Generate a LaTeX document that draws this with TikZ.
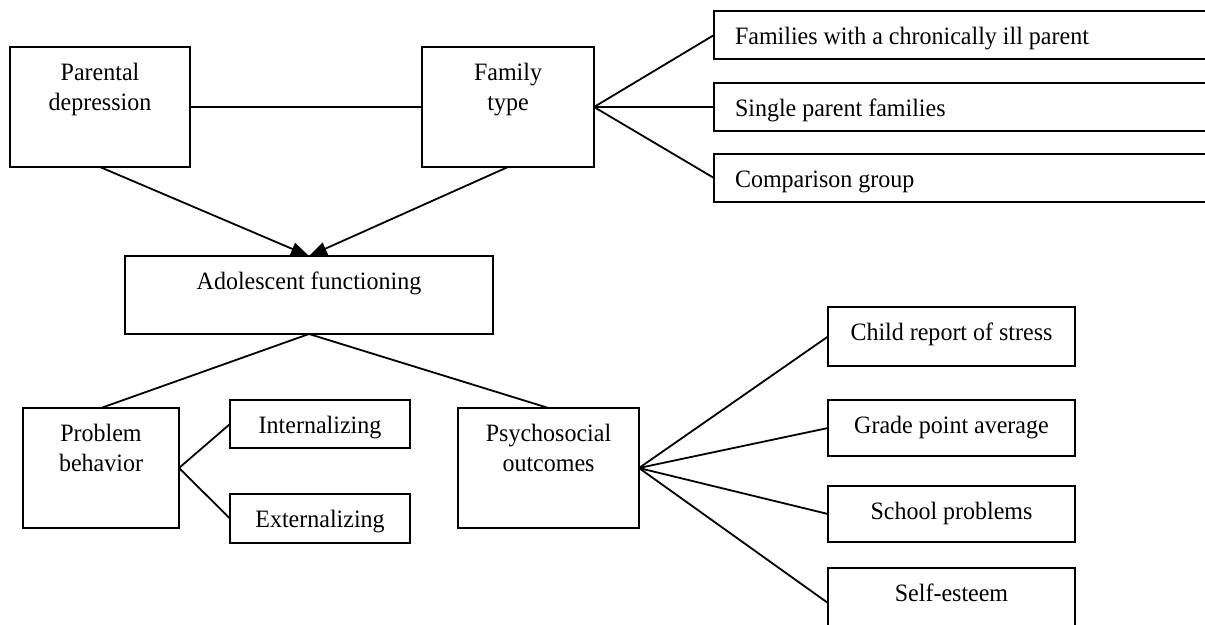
\documentclass[tikz,border=0pt]{standalone}
\usepackage{fontspec}
\setmainfont{Liberation Serif}[FakeStretch=0.96]
\usetikzlibrary{arrows.meta}
\newcommand{\ctext}[3]{\parbox[c][#2][t]{#1}{\centering\rule{0pt}{33pt}#3}}
\newcommand{\ltext}[3]{\parbox[c][#2][t]{#1}{\raggedright\hspace*{21pt}\rule{0pt}{33pt}#3}}
\tikzset{
  box/.style={draw, line width=1.8pt, inner sep=0pt, outer sep=0pt, anchor=north west, fill=white,
    font=\fontsize{25}{30.5}\selectfont},
  link/.style={line width=1.8pt},
  arr/.style={line width=1.8pt, -{Triangle[length=18pt,width=13pt]}}
}
\begin{document}
\begin{tikzpicture}[x=1pt,y=-1pt]
\useasboundingbox (0,0) rectangle (1205,624);
\clip (0,0) rectangle (1205,624);
\node[box] (pd) at (10,47) {\ctext{180pt}{120pt}{Parental\\depression}};
\node[box] (ft) at (422,47) {\ctext{172pt}{120pt}{Family\\type}};
\node[box] (f1) at (714,11) {\ltext{520pt}{48pt}{Families with a chronically ill parent}};
\node[box] (f2) at (714,83) {\ltext{520pt}{48pt}{Single parent families}};
\node[box] (f3) at (714,154) {\ltext{520pt}{48pt}{Comparison group}};
\node[box] (ad) at (125,256) {\ctext{368pt}{78pt}{Adolescent functioning}};
\node[box] (pb) at (23,408) {\ctext{156pt}{120pt}{Problem\\behavior}};
\node[box] (in) at (230,400) {\ctext{180pt}{48pt}{Internalizing}};
\node[box] (ex) at (230,494) {\ctext{180pt}{49pt}{Externalizing}};
\node[box] (ps) at (458,408) {\ctext{181pt}{120pt}{Psychosocial\\outcomes}};
\node[box] (c1) at (828,307) {\ctext{247pt}{59pt}{Child report of stress}};
\node[box] (c2) at (828,400) {\ctext{247pt}{56pt}{Grade point average}};
\node[box] (c3) at (828,486) {\ctext{247pt}{56pt}{School problems}};
\node[box] (c4) at (828,568) {\ctext{247pt}{70pt}{Self-esteem}};
\draw[link] (pd.east) -- (ft.west);
\draw[link] (ft.east) -- (f1.west);
\draw[link] (ft.east) -- (f2.west);
\draw[link] (ft.east) -- (f3.west);
\draw[arr] (pd.south) -- (ad.north);
\draw[arr] (ft.south) -- (ad.north);
\draw[link] (ad.south) -- (pb.north);
\draw[link] (ad.south) -- (ps.north);
\draw[link] (pb.east) -- (in.west);
\draw[link] (pb.east) -- (ex.west);
\draw[link] (ps.east) -- (c1.west);
\draw[link] (ps.east) -- (c2.west);
\draw[link] (ps.east) -- (c3.west);
\draw[link] (ps.east) -- (c4.west);
\end{tikzpicture}
\end{document}
